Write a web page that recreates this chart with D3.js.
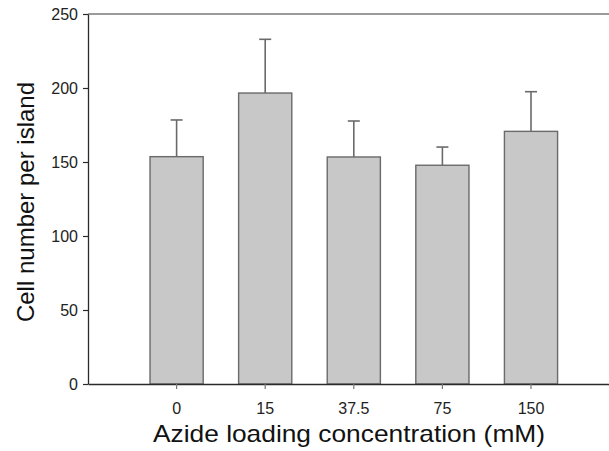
<!DOCTYPE html>
<html lang="en">
<head>
  <meta charset="utf-8">
  <title>Cell number per island</title>
  <script src="https://cdn.jsdelivr.net/npm/d3@7/dist/d3.min.js"></script>
  <style>
    html, body { margin: 0; padding: 0; background: #fff; overflow: hidden; }
    svg { display: block; font-family: Arial, "Liberation Sans", sans-serif; }
  </style>
</head>
<body>
  <div id="chart"></div>

  <script>
    // ---- data ----
    const categories = ['0', '15', '37.5', '75', '150'];
    const means      = [153.6, 196.6, 153.4, 147.8, 170.7];
    const errors     = [24.8, 36.3, 24.3, 12.3, 26.8];   // upper error bar only
    const yTicks     = [0, 50, 100, 150, 200, 250];

    const W = 609, H = 451;
    const plotLeft = 88, plotTop = 14, plotBottom = 384;

    const svg = d3.select('#chart').append('svg')
      .attr('width', W)
      .attr('height', H);

    // scales: right frame edge sits just outside the window
    const x = d3.scaleBand()
      .domain(categories)
      .range([plotLeft, 619.6])
      .paddingInner(0.4)
      .paddingOuter(0.7);

    const y = d3.scaleLinear()
      .domain([0, 250])
      .range([plotBottom, plotTop]);

    const axisColor = '#2b2b2b';
    const barStroke = '#6a6a6a';

    // top frame line
    svg.append('line')
      .attr('x1', plotLeft).attr('x2', x.range()[1])
      .attr('y1', plotTop).attr('y2', plotTop)
      .attr('stroke', '#7a7a7a')
      .attr('stroke-width', 1.3);

    // error bars (drawn first so bar outline covers the stem foot)
    const eb = svg.append('g')
      .selectAll('g')
      .data(categories)
      .join('g')
        .attr('stroke', barStroke)
        .attr('stroke-width', 1.6);

    eb.append('line')
      .attr('x1', d => x(d) + x.bandwidth() / 2)
      .attr('x2', d => x(d) + x.bandwidth() / 2)
      .attr('y1', (d, i) => y(means[i]))
      .attr('y2', (d, i) => y(means[i] + errors[i]));

    eb.append('line')
      .attr('x1', d => x(d) + x.bandwidth() / 2 - 6)
      .attr('x2', d => x(d) + x.bandwidth() / 2 + 6)
      .attr('y1', (d, i) => y(means[i] + errors[i]))
      .attr('y2', (d, i) => y(means[i] + errors[i]));

    // bars
    svg.append('g')
      .selectAll('rect')
      .data(categories)
      .join('rect')
        .attr('x', d => x(d))
        .attr('y', (d, i) => y(means[i]))
        .attr('width', x.bandwidth())
        .attr('height', (d, i) => y(0) - y(means[i]))
        .attr('fill', '#c8c8c8')
        .attr('stroke', barStroke)
        .attr('stroke-width', 1.4);

    // y axis
    const yAxis = svg.append('g')
      .attr('transform', `translate(${plotLeft},0)`)
      .call(d3.axisLeft(y).tickValues(yTicks).tickSize(5).tickSizeOuter(0).tickPadding(5));
    yAxis.select('.domain').attr('stroke', axisColor).attr('stroke-width', 1.3);
    yAxis.selectAll('.tick line').attr('stroke', axisColor).attr('stroke-width', 1.2);
    yAxis.selectAll('.tick text')
      .attr('font-size', 16)
      .attr('font-family', 'Arial, "Liberation Sans", sans-serif')
      .attr('fill', '#222');

    // x axis
    const xAxis = svg.append('g')
      .attr('transform', `translate(0,${plotBottom})`)
      .call(d3.axisBottom(x).tickSize(5).tickSizeOuter(0).tickPadding(14));
    xAxis.select('.domain').attr('stroke', axisColor).attr('stroke-width', 1.4);
    xAxis.selectAll('.tick line').attr('stroke', '#777').attr('stroke-width', 1.2);
    xAxis.selectAll('.tick text')
      .attr('font-size', 16)
      .attr('font-family', 'Arial, "Liberation Sans", sans-serif')
      .attr('fill', '#222');

    // axis titles
    svg.append('text')
      .attr('transform', 'translate(34,202) rotate(-90)')
      .attr('text-anchor', 'middle')
      .attr('font-size', 24)
      .attr('fill', '#111')
      .text('Cell number per island');

    svg.append('text')
      .attr('x', 349)
      .attr('y', 442)
      .attr('text-anchor', 'middle')
      .attr('font-size', 24)
      .attr('textLength', 392)
      .attr('lengthAdjust', 'spacingAndGlyphs')
      .attr('fill', '#111')
      .text('Azide loading concentration (mM)');
  </script>
</body>
</html>
